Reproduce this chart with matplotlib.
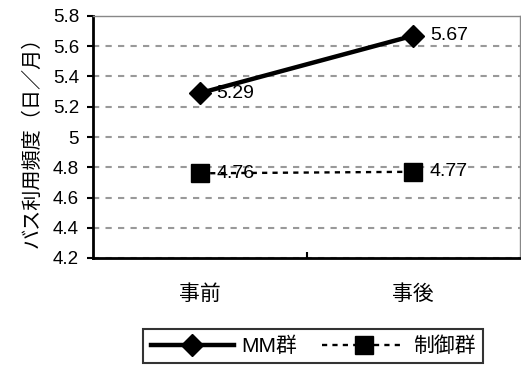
import numpy as np
import matplotlib
matplotlib.use("Agg")
import matplotlib.pyplot as plt

plt.rcParams["font.family"] = ["Liberation Sans", "Noto Sans CJK JP", "DejaVu Sans"]

# data
categories = ["事前", "事後"]
mm_values = [5.29, 5.67]
ctrl_values = [4.76, 4.77]
series_names = ["MM群", "制御群"]
y_ticks = [4.2, 4.4, 4.6, 4.8, 5.0, 5.2, 5.4, 5.6, 5.8]
y_tick_labels = ["4.2", "4.4", "4.6", "4.8", "5", "5.2", "5.4", "5.6", "5.8"]
y_label = "バス利用頻度（日／月）"

fig = plt.figure(figsize=(5.21, 3.65), dpi=100)
ax = fig.add_axes([93 / 521, 1 - 258 / 365, (520 - 93) / 521, (258 - 16) / 365])

x = np.arange(len(categories))

# grid
for v in y_ticks[:-1]:
    ax.axhline(v, color="#999999", linewidth=1.5, linestyle=(0, (3, 3)), zorder=0)

ax.plot(x, mm_values, color="black", linewidth=3.2, marker="D", markersize=11,
        label=series_names[0], zorder=3)
ax.plot(x, ctrl_values, color="black", linewidth=1.7, linestyle=(0, (2.2, 2.2)),
        marker="s", markersize=12.5, label=series_names[1], zorder=3)

for xi, v in zip(x, mm_values):
    ax.annotate(f"{v:.2f}", (xi, v), xytext=(12, 0), textcoords="offset points",
                va="center", ha="left", fontsize=14)
for xi, v in zip(x, ctrl_values):
    ax.annotate(f"{v:.2f}", (xi, v), xytext=(12, 0), textcoords="offset points",
                va="center", ha="left", fontsize=14)

ax.set_xlim(-0.5, 1.5)
ax.set_ylim(4.2, 5.8)
ax.set_yticks(y_ticks)
ax.set_yticklabels(y_tick_labels, fontsize=13.5)
ax.set_xticks(x)
ax.set_xticklabels(categories, fontsize=15)
ax.tick_params(axis="x", length=0, pad=19)
ax.set_xticks([0.5], minor=True)
ax.tick_params(axis="x", which="minor", direction="in", length=4, width=1.5)
ax.tick_params(axis="y", direction="out", length=4, width=1.5, pad=6)
ax.set_ylabel(y_label, fontsize=14.5, labelpad=8)

for s in ["left", "bottom"]:
    ax.spines[s].set_linewidth(2)
    ax.spines[s].set_color("black")
for s in ["top", "right"]:
    ax.spines[s].set_linewidth(1)
    ax.spines[s].set_color("#888888")

leg = fig.legend(loc="upper center", bbox_to_anchor=(313 / 521, 1 - 329 / 365),
                 ncol=2, fontsize=15, frameon=True, fancybox=False,
                 handlelength=4.0, columnspacing=1.2, handletextpad=0.35,
                 borderpad=0.35, borderaxespad=0)
leg.get_frame().set_edgecolor("black")
leg.get_frame().set_linewidth(1.5)

fig.savefig("out.png", dpi=100)
